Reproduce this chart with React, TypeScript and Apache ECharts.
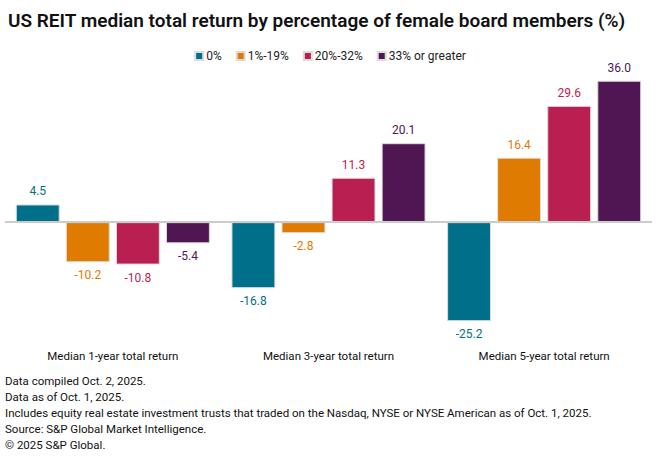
import React, { useEffect, useRef } from "react";
import * as echarts from "echarts";

const categories = [
  "Median 1-year total return",
  "Median 3-year total return",
  "Median 5-year total return",
];
const seriesNames = ["0%", "1%-19%", "20%-32%", "33% or greater"];
const values0 = [4.5, -16.8, -25.2];
const values1 = [-10.2, -2.8, 16.4];
const values2 = [-10.8, 11.3, 29.6];
const values3 = [-5.4, 20.1, 36.0];
const colors = ["#00708A", "#DF7B00", "#B91F50", "#501654"];
const footerLines = [
  "Data compiled Oct. 2, 2025.",
  "Data as of Oct. 1, 2025.",
  "Includes equity real estate investment trusts that traded on the Nasdaq, NYSE or NYSE American as of Oct. 1, 2025.",
  "Source: S&P Global Market Intelligence.",
  "© 2025 S&P Global.",
];

const FONT = "Roboto, 'Liberation Sans', sans-serif";

export default function App() {
  const ref = useRef<HTMLDivElement>(null);
  useEffect(() => {
    if (!ref.current) return;
    const chart = echarts.init(ref.current, undefined, { renderer: "svg" });
    const allValues = [values0, values1, values2, values3];
    const series = allValues.map((vals, i) => ({
      name: seriesNames[i],
      type: "bar",
      barGap: "14%",
      barCategoryGap: "10%",
      itemStyle: { color: colors[i], borderColor: "#dcdcdc", borderWidth: 1 },
      data: vals.map((v) => ({
        value: v,
        label: { position: v >= 0 ? "top" : "bottom" },
      })),
      label: {
        show: true,
        distance: 7,
        color: colors[i],
        fontSize: 12,
        fontFamily: FONT,
        formatter: (p: any) => Number(p.value).toFixed(1),
      },
      ...(i === 0
        ? {
            markLine: {
              silent: true,
              symbol: "none",
              label: { show: false },
              lineStyle: { color: "#cccccc", width: 2, type: "solid" },
              data: [{ yAxis: 0 }],
            },
          }
        : {}),
    }));
    chart.setOption({
      animation: false,
      textStyle: { fontFamily: FONT },
      title: {
        text: "US REIT median total return by percentage of female board members (%)",
        left: 3,
        top: 6,
        textStyle: { fontSize: 19, fontWeight: 600, color: "#111", fontFamily: FONT },
      },
      legend: {
        top: 45,
        left: "center",
        icon: "rect",
        itemWidth: 8,
        itemHeight: 8,
        itemGap: 14,
        textStyle: { fontSize: 12, color: "#222", fontFamily: FONT, padding: [0, 0, 0, -2] },
        data: seriesNames,
      },
      grid: { left: 5, right: 8, top: 65, bottom: 120, containLabel: false },
      xAxis: {
        type: "category",
        data: categories,
        axisLine: { show: false, onZero: false },
        axisTick: { show: false },
        axisLabel: { fontSize: 11.5, color: "#111", margin: 10, fontFamily: FONT },
      },
      yAxis: {
        type: "value",
        min: -30,
        max: 40,
        show: false,
        splitLine: { show: false },
      },
      graphic: footerLines.map((t, i) => ({
        type: "text",
        left: 5,
        top: 375 + i * 16,
        style: { text: t, fontSize: 11.5, fill: "#111", fontFamily: FONT },
      })),
      series,
    });
    return () => chart.dispose();
  }, []);
  return (
    <div
      ref={ref}
      style={{ position: "fixed", left: 0, top: 0, width: 660, height: 460, background: "#fff" }}
    />
  );
}
